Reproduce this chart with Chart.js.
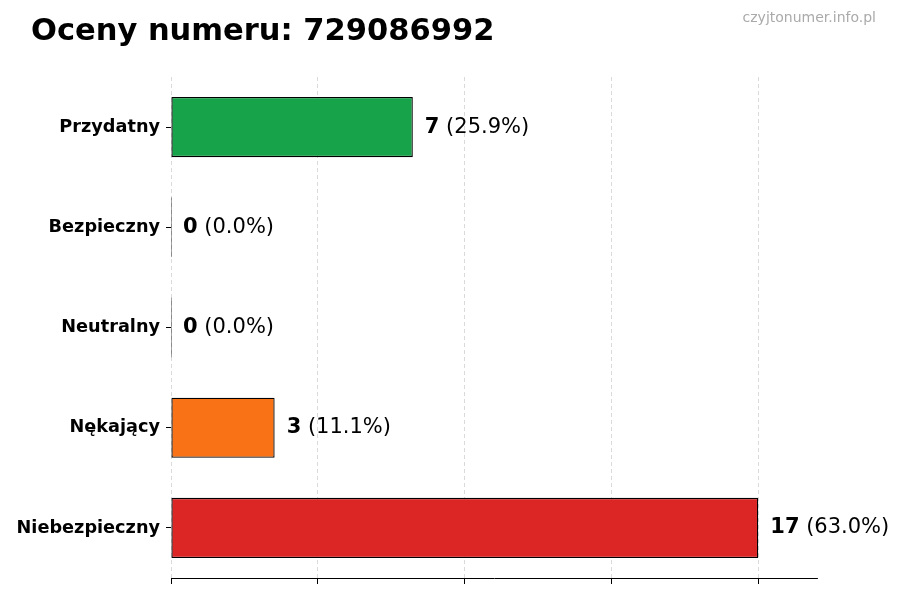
<!DOCTYPE html>
<html lang="pl">
<head>
    <meta charset="UTF-8">
    <title>Oceny numeru</title>
    <script src="https://cdn.jsdelivr.net/npm/chart.js"></script>
    <style>
        body { margin: 0; background: #fff; }
    </style>
</head>
<body>
    <canvas id="ratingsChart" width="900" height="600"></canvas>

    <script>
        const categories = ["Przydatny", "Bezpieczny", "Neutralny", "Nękający", "Niebezpieczny"];
        const counts = [7, 0, 0, 3, 17];
        const barColors = ["#16a34a", "#222222", "#222222", "#f97316", "#dc2626"];
        const xTicks = [0, 4.25, 8.5, 12.75, 17];
        const xMax = 18.7;
        const titleText = "Oceny numeru: 729086992";
        const watermark = "czyjtonumer.info.pl";

        const total = counts.reduce((a, b) => a + b, 0);
        const FONT = "'DejaVu Sans', sans-serif";

        // title, watermark and the "n (p%)" labels next to the bars
        const textPlugin = {
            id: "textPlugin",
            afterDraw(chart) {
                const ctx = chart.ctx;
                ctx.save();
                ctx.fillStyle = "#000";
                ctx.font = "bold 30.5px " + FONT;
                ctx.textBaseline = "alphabetic";
                ctx.textAlign = "left";
                ctx.fillText(titleText, 31, 40);

                ctx.fillStyle = "#aaa";
                ctx.font = "14px " + FONT;
                ctx.textAlign = "right";
                ctx.fillText(watermark, 876, 22);

                ctx.textAlign = "left";
                ctx.textBaseline = "middle";
                const meta = chart.getDatasetMeta(0);
                meta.data.forEach((bar, i) => {
                    const xEnd = chart.scales.x.getPixelForValue(counts[i]);
                    let x = xEnd + 12;
                    const num = String(counts[i]);
                    const pct = " (" + (counts[i] / total * 100).toFixed(1) + "%)";
                    ctx.fillStyle = "#000";
                    ctx.font = "bold 21px " + FONT;
                    ctx.fillText(num, x, bar.y);
                    x += ctx.measureText(num).width;
                    ctx.font = "21px " + FONT;
                    ctx.fillText(pct, x, bar.y);
                });
                ctx.restore();
            }
        };

        new Chart(document.getElementById("ratingsChart"), {
            type: "bar",
            data: {
                labels: categories,
                datasets: [{
                    data: counts,
                    backgroundColor: barColors,
                    borderColor: "#000",
                    borderWidth: 1.3,
                    borderSkipped: false,
                    minBarLength: 1,
                    barPercentage: 0.6,
                    categoryPercentage: 1.0
                }]
            },
            options: {
                indexAxis: "y",
                responsive: false,
                animation: false,
                devicePixelRatio: 1,
                layout: { padding: { left: 0, right: 83, top: 77, bottom: 0 } },
                plugins: {
                    legend: { display: false },
                    tooltip: { enabled: false }
                },
                scales: {
                    x: {
                        min: 0,
                        max: xMax,
                        afterBuildTicks: s => { s.ticks = xTicks.map(v => ({ value: v })); },
                        afterFit: s => { s.height = 22; },
                        ticks: { display: false },
                        grid: {
                            color: "#d0d0d0",
                            lineWidth: 0.8,
                            drawTicks: true,
                            tickLength: 6,
                            tickColor: "#000",
                            tickWidth: 1,
                            tickBorderDash: []
                        },
                        border: { display: true, color: "#000", width: 1, dash: [4, 3] }
                    },
                    y: {
                        afterFit: s => { s.width = 171; },
                        ticks: {
                            color: "#000",
                            padding: 6,
                            font: { family: FONT, size: 17.7, weight: "bold" }
                        },
                        grid: {
                            offset: false,
                            drawOnChartArea: false,
                            drawTicks: true,
                            tickLength: 5,
                            tickColor: "#000"
                        },
                        border: { display: false }
                    }
                }
            },
            plugins: [textPlugin]
        });
    </script>
</body>
</html>
